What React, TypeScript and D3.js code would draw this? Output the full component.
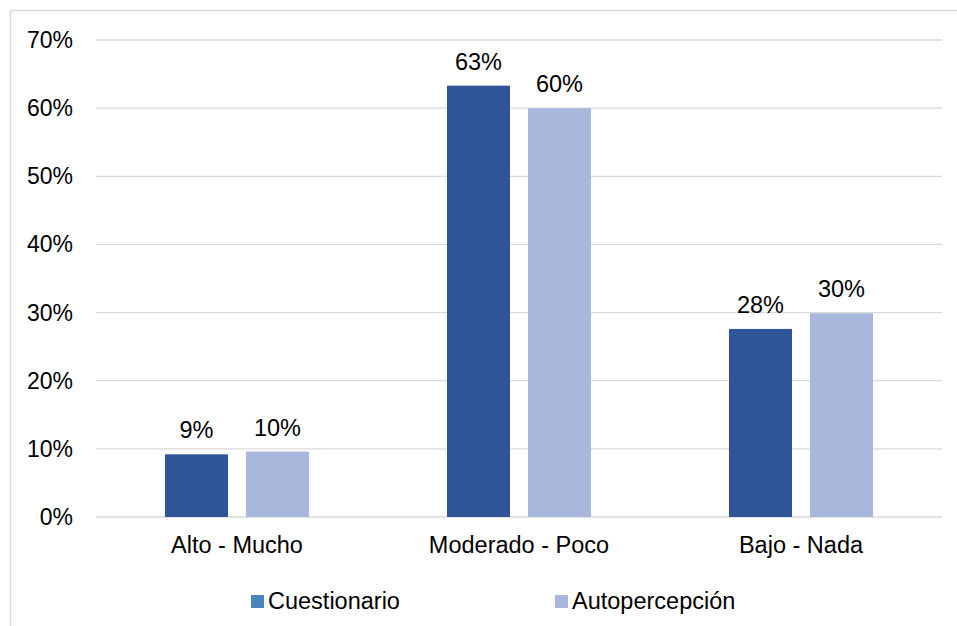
import React from "react";
import * as d3 from "d3";

const categories = ["Alto - Mucho", "Moderado - Poco", "Bajo - Nada"];
const seriesNames = ["Cuestionario", "Autopercepción"];
const cuestionario = [0.092, 0.633, 0.276];
const autopercepcion = [0.096, 0.6, 0.299];
const yTicks = [0, 0.1, 0.2, 0.3, 0.4, 0.5, 0.6, 0.7];

const barColors = ["#2f5597", "#a9b7dc"];
const legendColors = ["#4a86bd", "#a9b7dc"];

export default function App() {
  const W = 957;
  const H = 626;
  const left = 96;
  const right = 942;
  const top = 40;
  const bottom = 517;
  const font = "'Liberation Sans', Arial, sans-serif";

  const y = d3.scaleLinear().domain([0, 0.7]).range([bottom, top]);
  const x0 = d3.scaleBand().domain(categories).range([left, right]);
  const barW = 63;
  const gap = 18;
  const fmt = d3.format(".0%");
  const series = [cuestionario, autopercepcion];

  return (
    <svg
      width={W}
      height={H}
      style={{ position: "absolute", left: 0, top: 0 }}
      fontFamily={font}
    >
      <rect x={0} y={0} width={W} height={H} fill="#fff" />
      <rect x={10.5} y={10.5} width={W + 10} height={H + 10} fill="none" stroke="#d9d9d9" strokeWidth={1.5} />
      {yTicks.map((t) => (
        <g key={t}>
          <line x1={left} x2={right} y1={y(t)} y2={y(t)} stroke="#d9d9d9" strokeWidth={1.3} />
          <text x={73} y={y(t) + 8} textAnchor="end" fontSize={23} fill="#000">
            {fmt(t)}
          </text>
        </g>
      ))}
      {categories.map((c, i) => {
        const cx = (x0(c) as number) + x0.bandwidth() / 2;
        return (
          <g key={c}>
            {series.map((vals, s) => {
              const bx = s === 0 ? cx - gap / 2 - barW : cx + gap / 2;
              const v = vals[i];
              return (
                <g key={s}>
                  <rect x={bx} y={y(v)} width={barW} height={bottom - y(v)} fill={barColors[s]} />
                  <text x={bx + barW / 2} y={y(v) - 16} textAnchor="middle" fontSize={23.5} fill="#000">
                    {fmt(v)}
                  </text>
                </g>
              );
            })}
            <text x={cx} y={553} textAnchor="middle" fontSize={23.5} fill="#000">
              {c}
            </text>
          </g>
        );
      })}
      {seriesNames.map((n, i) => {
        const lx = i === 0 ? 251 : 555;
        return (
          <g key={n}>
            <rect x={lx} y={595} width={13} height={13} fill={legendColors[i]} />
            <text x={lx + 17} y={609} fontSize={23.5} fill="#000">
              {n}
            </text>
          </g>
        );
      })}
    </svg>
  );
}
